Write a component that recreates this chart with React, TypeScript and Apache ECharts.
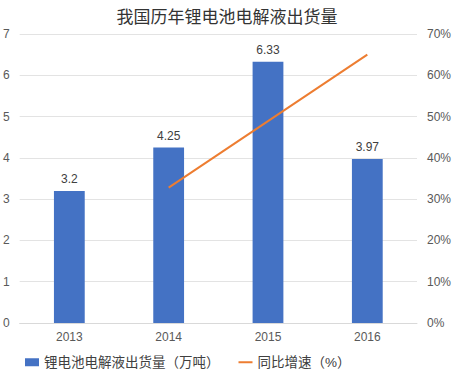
import React, { useEffect, useRef } from "react";
import * as echarts from "echarts";

const years = ["2013", "2014", "2015", "2016"];
const shipment = [3.2, 4.25, 6.33, 3.97];
const growth = [null, 32.8, 48.9, 65];
const leftTicks = [0, 7, 1];
const rightTicks = [0, 70, 10];

const FONT = "'Liberation Sans', 'Noto Sans CJK SC', sans-serif";

export default function App() {
  const ref = useRef<HTMLDivElement>(null);
  useEffect(() => {
    if (!ref.current) return;
    const chart = echarts.init(ref.current, undefined, { renderer: "svg" });
    chart.setOption({
      animation: false,
      textStyle: { fontFamily: FONT },
      title: {
        text: "我国历年锂电池电解液出货量",
        left: "center",
        top: 4,
        textStyle: { fontSize: 17, fontWeight: "normal", color: "#333", fontFamily: FONT },
      },
      grid: { left: 18, right: 30, top: 34, bottom: 54 },
      legend: {
        bottom: 3,
        left: 20,
        itemWidth: 14,
        itemHeight: 8,
        itemGap: 18,
        textStyle: { fontSize: 13.5, color: "#404040", fontFamily: FONT },
        data: [
          { name: "锂电池电解液出货量（万吨）", icon: "rect" },
          { name: "同比增速（%）", itemStyle: { opacity: 0 } },
        ],
      },
      xAxis: {
        type: "category",
        data: years,
        axisTick: { show: false },
        axisLine: { lineStyle: { color: "#d9d9d9" } },
        axisLabel: { color: "#595959", fontSize: 12, margin: 8 },
      },
      yAxis: [
        {
          type: "value",
          min: leftTicks[0],
          max: leftTicks[1],
          interval: leftTicks[2],
          axisLabel: { color: "#595959", fontSize: 12, margin: 10 },
          splitLine: { lineStyle: { color: "#e3e3e3" } },
          axisLine: { show: false },
          axisTick: { show: false },
        },
        {
          type: "value",
          min: rightTicks[0],
          max: rightTicks[1],
          interval: rightTicks[2],
          axisLabel: { color: "#595959", fontSize: 12, margin: 10, formatter: "{value}%" },
          splitLine: { show: false },
          axisLine: { show: false },
          axisTick: { show: false },
        },
      ],
      series: [
        {
          name: "锂电池电解液出货量（万吨）",
          type: "bar",
          data: shipment,
          barWidth: "31%",
          itemStyle: { color: "#4472C4" },
          label: {
            show: true,
            position: "top",
            color: "#404040",
            fontSize: 12,
            distance: 6,
          },
        },
        {
          name: "同比增速（%）",
          type: "line",
          yAxisIndex: 1,
          data: growth,
          symbol: "none",
          lineStyle: { color: "#ED7D31", width: 2 },
          itemStyle: { color: "#ED7D31" },
        },
      ],
    });
    return () => chart.dispose();
  }, []);
  return <div ref={ref} style={{ width: 454, height: 377, position: "absolute", left: 0, top: 0 }} />;
}
